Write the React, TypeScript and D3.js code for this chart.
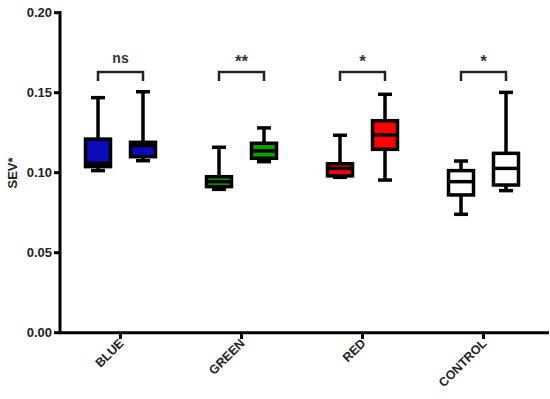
import React from "react";
import * as d3 from "d3";

const categories = ["BLUE", "GREEN", "RED", "CONTROL"];
const fills = ["#0b0bb8", "#0aa00a", "#ff0000", "#ffffff"];
const signif = ["ns", "**", "*", "*"];
// [whiskerLow, q1, median, q3, whiskerHigh] for left / right box in each group
const leftBoxes = [
  [0.1013, 0.1038, 0.1059, 0.121, 0.1469],
  [0.0896, 0.0913, 0.0944, 0.0975, 0.1159],
  [0.0971, 0.098, 0.1027, 0.1056, 0.1234],
  [0.074, 0.0861, 0.0944, 0.1013, 0.1073],
];
const rightBoxes = [
  [0.1075, 0.11, 0.1169, 0.119, 0.1506],
  [0.1069, 0.109, 0.1136, 0.1184, 0.128],
  [0.0954, 0.1146, 0.1236, 0.1325, 0.149],
  [0.0888, 0.0923, 0.1027, 0.1121, 0.1502],
];
const yTicks = [0, 0.05, 0.1, 0.15, 0.2];

const W = 550;
const H = 399;

export default function App() {
  const y = d3.scaleLinear().domain([0, 0.2]).range([332.7, 12.7]);
  const x = d3.scaleBand().domain(categories).range([60, 544]);
  const off = 22.5;
  const boxW = 25;
  const capW = 14;
  const font = "'Liberation Sans', Arial, sans-serif";

  const drawBox = (cx, b, fill, key) => {
    const [lo, q1, med, q3, hi] = b;
    return (
      <g key={key}>
        <line x1={cx} x2={cx} y1={y(lo)} y2={y(hi)} stroke="#000" strokeWidth={3.5} />
        <line x1={cx - capW / 2} x2={cx + capW / 2} y1={y(hi)} y2={y(hi)} stroke="#000" strokeWidth={3.5} />
        <line x1={cx - capW / 2} x2={cx + capW / 2} y1={y(lo)} y2={y(lo)} stroke="#000" strokeWidth={3.5} />
        <rect x={cx - boxW / 2} y={y(q3)} width={boxW} height={y(q1) - y(q3)} fill={fill} stroke="#000" strokeWidth={3.5} />
        <line x1={cx - boxW / 2} x2={cx + boxW / 2} y1={y(med)} y2={y(med)} stroke="#000" strokeWidth={3.5} />
      </g>
    );
  };

  return (
    <svg width={W} height={H} style={{ position: "absolute", left: 0, top: 0, background: "#fff" }}>
      {/* y axis */}
      <line x1={60} x2={60} y1={11} y2={334} stroke="#000" strokeWidth={3} />
      {yTicks.map((t) => (
        <g key={t}>
          <line x1={54} x2={60} y1={y(t)} y2={y(t)} stroke="#000" strokeWidth={3} />
          <text x={52} y={y(t)} dy="0.36em" textAnchor="end" fontFamily={font} fontWeight="bold" fontSize={13} fill="#222">
            {d3.format(".2f")(t)}
          </text>
        </g>
      ))}
      <text transform="translate(17,173) rotate(-90)" textAnchor="middle" fontFamily={font} fontWeight="bold" fontSize={13} fill="#222">
        SEV*
      </text>
      {/* x axis */}
      <line x1={58.5} x2={549} y1={332.7} y2={332.7} stroke="#000" strokeWidth={3} />
      {categories.map((c) => {
        const cx = x(c) + x.bandwidth() / 2;
        return (
          <g key={c}>
            <line x1={cx} x2={cx} y1={332.7} y2={339} stroke="#000" strokeWidth={3} />
            <text transform={`translate(${cx + 4},${344}) rotate(-45)`} textAnchor="end" fontFamily={font} fontWeight="bold" fontSize={12.5} fill="#222">
              {c}
            </text>
          </g>
        );
      })}
      {categories.map((c, i) => {
        const cx = x(c) + x.bandwidth() / 2;
        const star = signif[i] !== "ns";
        return (
          <g key={"b" + c}>
            {drawBox(cx - off, leftBoxes[i], fills[i], "l")}
            {drawBox(cx + off, rightBoxes[i], fills[i], "r")}
            <path
              d={`M${cx - off},${81} V${72} H${cx + off} V${81}`}
              fill="none"
              stroke="#222"
              strokeWidth={2.5}
            />
            <text x={cx} y={star ? 67 : 63} textAnchor="middle" fontFamily={font} fontWeight="bold" fontSize={star ? 17 : 14} fill="#333">
              {signif[i]}
            </text>
          </g>
        );
      })}
    </svg>
  );
}
